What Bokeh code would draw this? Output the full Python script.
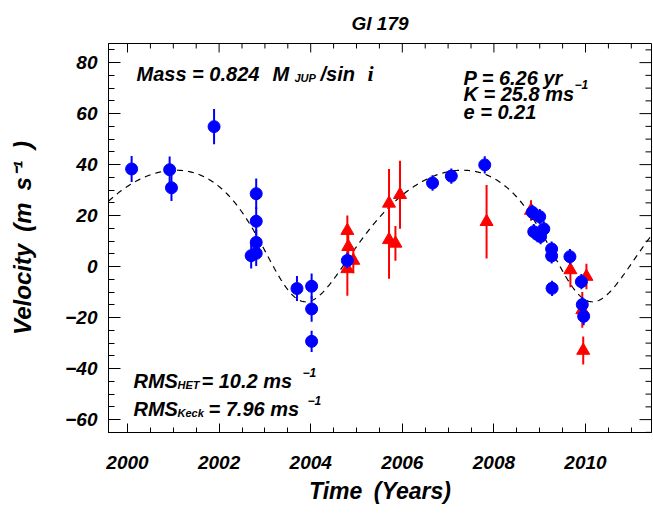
import numpy as np
from bokeh.plotting import figure
from bokeh.models import Range1d, LinearAxis, FixedTicker, Label, ColumnDataSource, CustomJSTickFormatter
from bokeh.embed import file_html
from bokeh.resources import INLINE

# ---------------- data ----------------
keck_year = [2000.09, 2000.92, 2000.96, 2001.89, 2002.81, 2002.81, 2002.81, 2002.81, 2002.70,
             2003.70, 2004.02, 2004.02, 2004.02, 2004.80, 2006.66, 2007.07, 2007.80,
             2008.84, 2009.00, 2008.87, 2009.09, 2009.02, 2008.95, 2009.26, 2009.26, 2009.27,
             2009.66, 2009.91, 2009.93, 2009.96]
keck_vel = [38.3, 38.0, 30.9, 54.9, 28.6, 17.8, 9.5, 5.2, 4.3,
            -8.6, -7.7, -16.6, -29.3, 2.4, 32.8, 35.5, 39.9,
            21.3, 19.6, 13.7, 14.8, 11.8, 12.6, 6.9, 4.2, -8.5,
            3.9, -5.9, -14.9, -19.5]
keck_err = [5.1, 5.2, 5.2, 6.9, 6.0, 5.5, 5.0, 5.0, 5.0,
            4.9, 5.0, 5.0, 4.2, 3.0, 3.0, 3.0, 3.4,
            3.0, 3.0, 3.0, 3.0, 3.0, 3.0, 3.0, 3.0, 3.0,
            3.0, 3.0, 3.0, 3.5]

het_year = [2004.80, 2004.82, 2004.80, 2004.93, 2005.71, 2005.71, 2005.95, 2005.85,
            2007.84, 2008.81, 2009.67, 2010.02, 2009.95, 2009.93]
het_vel = [14.1, 7.8, -0.9, 2.4, 24.8, 10.5, 28.2, 9.1,
           17.6, 22.0, -1.3, -3.9, -32.9, -17.0]
het_err = [5.9, 5.0, 10.5, 5.0, 13.5, 15.3, 13.3, 6.8,
           14.4, 4.0, 6.8, 5.0, 5.5, 7.0]

# orbital solution (from the annotation) used for the dashed model curve
P_yr, K_ms, ecc = 6.26, 25.8, 0.21
omega_deg, t_peri, gamma = 160.0, 2003.67, 17.1

# ticks
x_major = [2000, 2002, 2004, 2006, 2008, 2010]
x_minor = [v for v in np.arange(1999.5, 2011.5, 0.5) if v not in x_major]
y_major = [-60, -40, -20, 0, 20, 40, 60, 80]
y_minor = [v for v in range(-65, 88, 5) if v not in y_major]

FONT = "Liberation Sans"
SP = "\u2002"  # en space (wide gap as in the original labels)

# ---------------- figure ----------------
W, H = 653, 514
BL, BR, BT, BB = 108, 2, 43, 82
FRAME_W, FRAME_H = W - BL - BR, H - BT - BB
X0 = 1999.585
X1 = X0 + FRAME_W / 45.8
Y0, Y1 = -65.05, 87.5
p = figure(width=W, height=H, x_range=Range1d(X0, X1), y_range=Range1d(Y0, Y1),
           output_backend="svg", toolbar_location=None,
           min_border_left=BL, min_border_right=BR, min_border_top=BT, min_border_bottom=BB,
           x_axis_location=None, y_axis_location=None)
p.xgrid.visible = False
p.ygrid.visible = False
p.outline_line_color = "black"
p.outline_line_width = 1
p.background_fill_color = "white"
p.border_fill_color = "white"

p.title.text = "Gl 179"
p.title.align = "center"
p.title.text_font = FONT
p.title.text_font_style = "bold italic"
p.title.text_font_size = "19px"
p.title.text_color = "black"
p.title.standoff = 19

minus_fmt = CustomJSTickFormatter(code="return String(tick).replace('-', '\\u2212');")

def style_axis(ax, major_in, minor_in):
    ax.axis_line_color = "black"
    ax.major_tick_line_color = "black"
    ax.minor_tick_line_color = "black"
    ax.major_tick_out = 0
    ax.minor_tick_out = 0
    ax.major_tick_in = major_in
    ax.minor_tick_in = minor_in
    ax.formatter = minus_fmt
    ax.major_label_text_font = FONT
    ax.major_label_text_font_style = "bold italic"
    ax.major_label_text_font_size = "19px"
    ax.major_label_text_color = "black"
    ax.axis_label_text_font = FONT
    ax.axis_label_text_font_style = "bold italic"
    ax.axis_label_text_font_size = "23px"
    ax.axis_label_text_color = "black"

xb = LinearAxis(ticker=FixedTicker(ticks=x_major, minor_ticks=x_minor))
style_axis(xb, 9, 5)
xb.axis_label = "Time" + SP + "(Years)"
xb.major_label_standoff = 23
xb.axis_label_standoff = 6
p.add_layout(xb, "below")

yl = LinearAxis(ticker=FixedTicker(ticks=y_major, minor_ticks=y_minor))
style_axis(yl, 12, 6)
yl.axis_label = "Velocity" + SP + "(m" + SP + "s\u207b\u00b9" + SP + ")"
yl.axis_label_text_font_size = "24px"
yl.major_label_standoff = 11
yl.axis_label_standoff = 26
p.add_layout(yl, "left")

# mirrored inward ticks on the top and right frame edges
px_x = FRAME_W / (X1 - X0)   # pixels per year
px_y = FRAME_H / (Y1 - Y0)   # pixels per m/s
p.segment(x0=x_major, y0=[Y1] * len(x_major), x1=x_major, y1=[Y1 - 9 / px_y] * len(x_major),
          line_color="black", line_width=1)
p.segment(x0=x_minor, y0=[Y1] * len(x_minor), x1=x_minor, y1=[Y1 - 5 / px_y] * len(x_minor),
          line_color="black", line_width=1)
p.segment(x0=[X1] * len(y_major), y0=y_major, x1=[X1 - 12 / px_x] * len(y_major), y1=y_major,
          line_color="black", line_width=1)
p.segment(x0=[X1] * len(y_minor), y0=y_minor, x1=[X1 - 6 / px_x] * len(y_minor), y1=y_minor,
          line_color="black", line_width=1)

# ---------------- model curve ----------------
t = np.linspace(X0, X1, 800)
M = 2 * np.pi * (t - t_peri) / P_yr
E = M.copy()
for _ in range(60):
    E = E - (E - ecc * np.sin(E) - M) / (1 - ecc * np.cos(E))
nu = 2 * np.arctan2(np.sqrt(1 + ecc) * np.sin(E / 2), np.sqrt(1 - ecc) * np.cos(E / 2))
w = np.radians(omega_deg)
v_model = gamma + K_ms * (np.cos(nu + w) + ecc * np.cos(w))
p.line(t, v_model, line_color="black", line_width=1.2, line_dash="6 5")

# ---------------- data points ----------------
het = ColumnDataSource(dict(x=het_year, y=het_vel,
                            lo=[v - e for v, e in zip(het_vel, het_err)],
                            hi=[v + e for v, e in zip(het_vel, het_err)]))
keck = ColumnDataSource(dict(x=keck_year, y=keck_vel,
                             lo=[v - e for v, e in zip(keck_vel, keck_err)],
                             hi=[v + e for v, e in zip(keck_vel, keck_err)]))

p.segment(x0="x", y0="lo", x1="x", y1="hi", source=het, line_color="#ff0000", line_width=2)
p.scatter(x="x", y="y", source=het, marker="triangle", size=13, fill_color="#ff0000", line_color="#ff0000")
p.segment(x0="x", y0="lo", x1="x", y1="hi", source=keck, line_color="#0000ff", line_width=2)
p.scatter(x="x", y="y", source=keck, marker="circle", size=12, fill_color="#0000ff", line_color="#0000ff")

# ---------------- text annotations ----------------
# reference pixel -> data coordinates helpers (2000 at px 127, 45.8 px/yr; 0 at py 266, 2.55 px/unit)
def X(px):
    return 2000 + (px - 127) / 45.8

def Y(py):
    return (266 - py) / 2.55

def txt(s, px, py, size, font=FONT, style="bold italic", align="left"):
    p.add_layout(Label(x=X(px), y=Y(py), text=s, text_font=font, text_font_style=style,
                       text_font_size=size, text_color="black", text_align=align,
                       text_baseline="alphabetic"))

txt("Mass = 0.824", 136, 73.3, "20px")
txt("M", 272, 73.3, "20px")
txt("JUP", 294, 77.3, "11px")
txt("/sin", 320, 73.3, "20px")
txt("i", 367, 73.3, "22px", font="Liberation Serif", style="bold italic")

txt("P = 6.26 yr", 463, 77.7, "20px")
txt("K = 25.8 ms", 463, 93.3, "20px")
txt("\u22121", 574, 84, "12px")
txt("e = 0.21", 463, 111.7, "20px")

txt("RMS", 133, 380, "20px")
txt("HET", 177, 384.3, "11px")
txt("= 10.2 ms", 201, 380, "20px")
txt("\u22121", 302, 372, "12px")
txt("RMS", 133, 408.3, "20px")
txt("Keck", 177, 412.3, "11px")
txt("= 7.96 ms", 208, 408.3, "20px")
txt("\u22121", 307, 400, "12px")

open("out.html", "w").write(file_html(p, INLINE))
